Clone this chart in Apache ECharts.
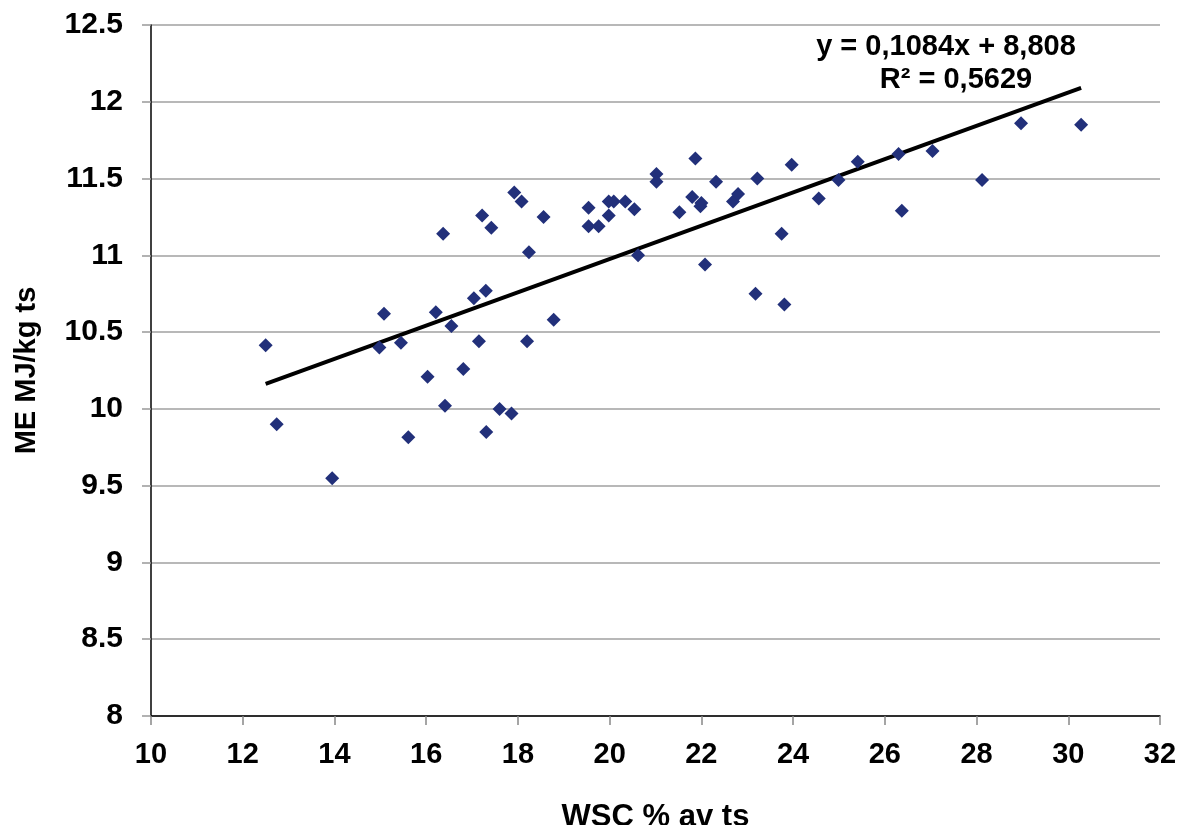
<!DOCTYPE html>
<html>
<head>
<meta charset="utf-8">
<script src="https://cdn.jsdelivr.net/npm/echarts@6/dist/echarts.min.js"></script>
<style>
html,body{margin:0;padding:0;background:#fff;}
#chart{width:1183px;height:825px;}
</style>
</head>
<body>
<div id="chart"></div>
<script>
// WSC % av ts (x) values
const wsc = [
  12.50, 12.74, 13.95, 14.98, 15.08, 15.45, 15.61, 16.03, 16.21, 16.37,
  16.41, 16.55, 16.81, 17.04, 17.15, 17.22, 17.30, 17.31, 17.42, 17.60,
  17.86, 17.92, 18.08, 18.20, 18.24, 18.56, 18.78, 19.54, 19.54, 19.76,
  19.98, 19.98, 20.09, 20.34, 20.54, 20.62, 21.02, 21.02, 21.52, 21.80,
  21.87, 21.98, 22.00, 22.08, 22.32, 22.69, 22.80, 23.18, 23.22, 23.75,
  23.81, 23.97, 24.56, 24.99, 25.41, 26.30, 26.37, 27.04, 28.12, 28.97,
  30.28
];
// ME MJ/kg ts (y) values
const me = [
  10.415, 9.90, 9.549, 10.40, 10.62, 10.43, 9.816, 10.21, 10.63, 11.14,
  10.02, 10.54, 10.26, 10.72, 10.44, 11.26, 10.77, 9.85, 11.18, 10.00,
  9.97, 11.41, 11.35, 10.44, 11.02, 11.25, 10.58, 11.31, 11.19, 11.19,
  11.35, 11.26, 11.35, 11.35, 11.30, 11.00, 11.53, 11.48, 11.28, 11.38,
  11.63, 11.32, 11.34, 10.94, 11.48, 11.35, 11.40, 10.75, 11.50, 11.14,
  10.68, 11.59, 11.37, 11.49, 11.61, 11.66, 11.29, 11.68, 11.49, 11.86,
  11.85
];
// Trend line as stated in the chart
const slope = 0.1084;
const intercept = 8.808;
const eqLabel = 'y = 0,1084x + 8,808';
const r2Label = 'R\u00b2 = 0,5629';
const xName = 'WSC % av ts';
const yName = 'ME MJ/kg ts';

const points = wsc.map((x, i) => [x, me[i]]);
const xMin = Math.min(...wsc), xMax = Math.max(...wsc);
const trend = [[xMin, slope * xMin + intercept], [xMax, slope * xMax + intercept]];

const FONT = '"Liberation Sans", Arial, sans-serif';
const chart = echarts.init(document.getElementById('chart'));
chart.setOption({
  animation: false,
  backgroundColor: '#fff',
  grid: { left: 151, top: 25, right: 23, bottom: 109, containLabel: false, outerBoundsMode: 'none' },
  xAxis: {
    type: 'value', min: 10, max: 32, interval: 2,
    name: xName, nameLocation: 'middle', nameGap: 86,
    nameTextStyle: { fontFamily: FONT, fontWeight: 'bold', fontSize: 31, color: '#000' },
    axisLine: { show: true, lineStyle: { color: '#000', width: 1.5 } },
    axisTick: { show: true, inside: false, length: 9, lineStyle: { color: '#888', width: 1.5 } },
    axisLabel: { fontFamily: FONT, fontWeight: 'bold', fontSize: 29, color: '#000', margin: 24 },
    splitLine: { show: false }
  },
  yAxis: {
    type: 'value', min: 8, max: 12.5, interval: 0.5,
    name: yName, nameLocation: 'middle', nameGap: 110, nameRotate: 90,
    nameTextStyle: { fontFamily: FONT, fontWeight: 'bold', fontSize: 29, color: '#000' },
    axisLine: { show: true, lineStyle: { color: '#000', width: 1.5 } },
    axisTick: { show: true, inside: false, length: 9, lineStyle: { color: '#999', width: 1.5 } },
    axisLabel: { fontFamily: FONT, fontWeight: 'bold', fontSize: 30, color: '#000', margin: 28,
      formatter: v => String(v) },
    splitLine: { show: true, lineStyle: { color: '#a0a0a0', width: 1.5 } }
  },
  series: [
    {
      type: 'line', data: trend, symbol: 'none', silent: true, z: 3,
      lineStyle: { color: '#000', width: 4 }
    },
    {
      type: 'scatter', data: points, symbol: 'diamond', symbolSize: 14, z: 4,
      itemStyle: { color: '#22307a', opacity: 1 }
    }
  ],
  graphic: [
    { type: 'text', x: 946, y: 47, style: { text: eqLabel, fontFamily: FONT, fontWeight: 'bold', fontSize: 29, fill: '#000', align: 'center', verticalAlign: 'middle' } },
    { type: 'text', x: 956, y: 80, style: { text: r2Label, fontFamily: FONT, fontWeight: 'bold', fontSize: 29, fill: '#000', align: 'center', verticalAlign: 'middle' } }
  ]
});
</script>
</body>
</html>
